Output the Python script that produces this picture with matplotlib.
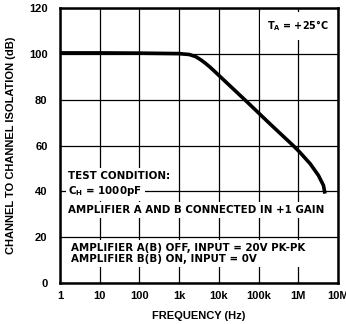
import numpy as np
import matplotlib
matplotlib.use('Agg')
import matplotlib.pyplot as plt

# curve
freq = [1, 10, 100, 1000, 1800, 2600, 3500, 4500, 6000, 10000, 46000,
        195000, 740000, 1100000, 2000000, 3200000, 4300000, 4700000]
isolation_db = [100.4, 100.4, 100.3, 100.1, 99.7, 98.8, 97.4, 96.0, 94.2, 90.6, 79.8,
                69.4, 60.0, 57.0, 52.0, 47.0, 42.6, 39.0]

x_ticks = [1, 10, 100, 1e3, 1e4, 1e5, 1e6, 1e7]
x_labels = ['1', '10', '100', '1k', '10k', '100k', '1M', '10M']
y_ticks = [0, 20, 40, 60, 80, 100, 120]

plt.rcParams['font.family'] = ['Liberation Sans', 'DejaVu Sans']

fig = plt.figure(figsize=(3.46, 3.24), dpi=100)
ax = fig.add_axes([60 / 346, 41 / 324, 278 / 346, 275 / 324])

ax.semilogx(freq, isolation_db, color='black', lw=2.6, solid_capstyle='butt', zorder=3)

ax.set_xlim(1, 1e7)
ax.set_ylim(0, 120)
ax.set_xticks(x_ticks)
ax.set_xticklabels(x_labels)
ax.set_yticks(y_ticks)
ax.minorticks_off()
ax.grid(True, color='black', lw=0.9)
ax.tick_params(length=0, labelsize=8, pad=6)
ax.tick_params(axis='y', pad=9)
for lab in ax.get_xticklabels() + ax.get_yticklabels():
    lab.set_fontweight('bold')
for s in ax.spines.values():
    s.set_linewidth(1.8)

ax.set_xlabel('FREQUENCY (Hz)', fontsize=8, fontweight='bold', labelpad=7)
ax.set_ylabel('CHANNEL TO CHANNEL ISOLATION (dB)', fontsize=8, fontweight='bold', labelpad=9)

# annotation text: wider face to match the original lettering
box = dict(facecolor='white', edgecolor='none', pad=2)
txt = dict(transform=ax.transAxes, fontsize=7.35, fontweight='bold', family='DejaVu Sans',
           va='center', ha='left', zorder=4)

ax.text(0.745, 0.935, r'T$_\mathregular{A}$ = +25°C', bbox=dict(facecolor='white', edgecolor='none', pad=5),
        **{**txt, 'fontsize': 6.9})
ax.text(0.03, 0.390, 'TEST CONDITION:', bbox=box, **txt)
ax.text(0.03, 0.335, r'C$_\mathregular{H}$ = 1000pF', bbox=box, **txt)
ax.text(0.03, 0.265, 'AMPLIFIER A AND B CONNECTED IN +1 GAIN', bbox=box, **txt)
ax.text(0.04, 0.108, 'AMPLIFIER A(B) OFF, INPUT = 20V PK-PK\nAMPLIFIER B(B) ON, INPUT = 0V',
        bbox=dict(facecolor='white', edgecolor='none', pad=2.5), linespacing=1.05, **txt)

fig.savefig('out.png', dpi=100)
